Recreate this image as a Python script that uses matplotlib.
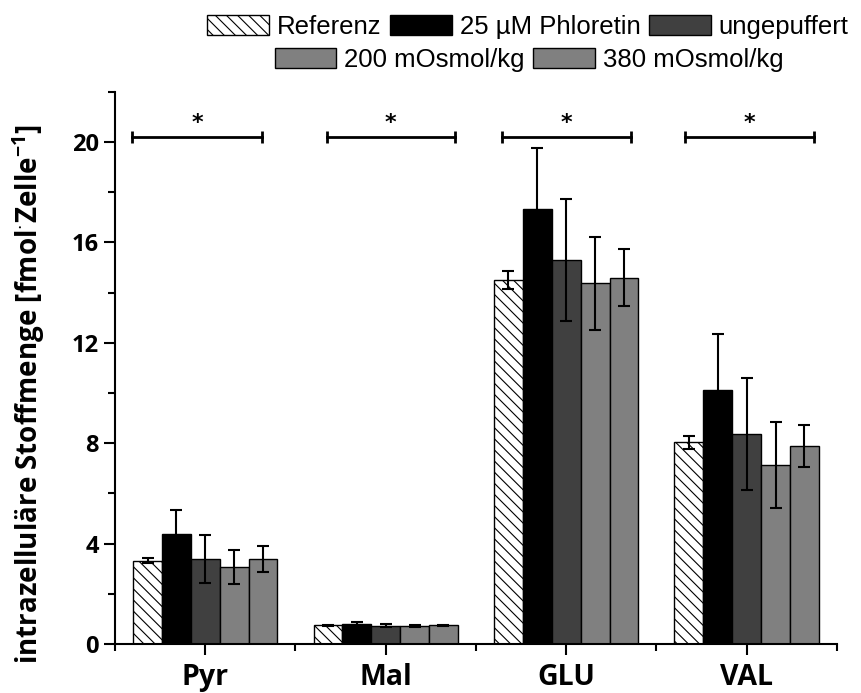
import matplotlib
matplotlib.use('Agg')
import matplotlib.pyplot as plt
from matplotlib.ticker import MultipleLocator, FixedLocator
import numpy as np

# Mittelwerte und Standardabweichungen je Substanz (fmol/Zelle)
substances = ['Pyr', 'Mal', 'GLU', 'VAL']
conditions = ['Referenz', '25 µM Phloretin', 'ungepuffert', '200 mOsmol/kg', '380 mOsmol/kg']

referenz = [3.32, 0.74, 14.50, 8.04]
referenz_err = [0.10, 0.02, 0.36, 0.26]
phloretin = [4.40, 0.81, 17.32, 10.12]
phloretin_err = [0.92, 0.06, 2.43, 2.23]
ungepuffert = [3.38, 0.73, 15.30, 8.37]
ungepuffert_err = [0.95, 0.07, 2.43, 2.22]
osm_200 = [3.06, 0.71, 14.37, 7.12]
osm_200_err = [0.68, 0.04, 1.85, 1.72]
osm_380 = [3.38, 0.74, 14.60, 7.89]
osm_380_err = [0.52, 0.03, 1.15, 0.85]

significance = ['*', '*', '*', '*']
sig_level = 20.2

# Lage der Signifikanzbalken relativ zur Gruppenmitte
sig_spans = [(-0.406, 0.317), (-0.328, 0.383), (-0.356, 0.361), (-0.344, 0.372)]

values = [referenz, phloretin, ungepuffert, osm_200, osm_380]
errors = [referenz_err, phloretin_err, ungepuffert_err, osm_200_err, osm_380_err]
colors = ['white', 'black', '#404040', '#808080', '#808080']
hatches = ['\\\\\\', None, None, None, None]

plt.rcParams['mathtext.fontset'] = 'custom'
plt.rcParams['mathtext.rm'] = 'Open Sans'
plt.rcParams['mathtext.bf'] = 'Open Sans:bold'
plt.rcParams['hatch.linewidth'] = 0.8

fig = plt.figure(figsize=(8.61, 6.93), dpi=100)
ax = fig.add_axes([0.1336, 0.0707, 0.972 - 0.1336, 0.8675 - 0.0707])

x = np.arange(1, len(substances) + 1)
width = 0.16
handles = []
for i, (vals, errs) in enumerate(zip(values, errors)):
    pos = x + (i - 2) * width
    b = ax.bar(pos, vals, width, color=colors[i], edgecolor='black', linewidth=1.0,
               hatch=hatches[i], label=conditions[i], zorder=2)
    ax.errorbar(pos, vals, yerr=errs, fmt='none', ecolor='black', elinewidth=1.5,
                capsize=4.5, capthick=1.5, zorder=3)
    handles.append(b)

for xi, (a, b), mark in zip(x, sig_spans, significance):
    ax.plot([xi + a, xi + b], [sig_level, sig_level], color='black', lw=2, zorder=3)
    ax.plot([xi + a, xi + b], [sig_level, sig_level], ls='none', marker='|',
            markersize=8, mew=2, color='black', zorder=3)
    ax.text(xi + (a + b) / 2, sig_level + 0.15, mark, ha='center', va='bottom',
            fontsize=16, fontweight='bold', family='DejaVu Sans')

ax.set_xlim(0.5, 4.5)
ax.set_ylim(0, 22)
ax.xaxis.set_major_locator(FixedLocator(x))
ax.xaxis.set_minor_locator(FixedLocator(np.arange(0.5, 4.6, 1.0)))
ax.yaxis.set_major_locator(FixedLocator([0, 4, 8, 12, 16, 20]))
ax.yaxis.set_minor_locator(MultipleLocator(2))
ax.set_xticklabels(substances, fontsize=20.5, fontweight='bold', family='Open Sans')
for lbl in ax.get_yticklabels():
    lbl.set_fontsize(17)
    lbl.set_fontweight('bold')
    lbl.set_family('Open Sans')

for side in ['top', 'right']:
    ax.spines[side].set_visible(False)
for side in ['left', 'bottom']:
    ax.spines[side].set_linewidth(1.5)
ax.tick_params(which='major', length=8, width=1.5, direction='out')
ax.tick_params(which='minor', length=5, width=1.5, direction='out')
ax.tick_params(axis='x', which='major', pad=6)

ax.set_ylabel(r'intrazelluläre Stoffmenge [fmol$^{\mathbf{\cdot}}$Zelle$^{\mathbf{-1}}$]',
              fontsize=20, fontweight='bold', family='Open Sans', va='center')
ax.yaxis.set_label_coords((29 - 115) / 722, (644 - 394) / 552)

leg_kw = dict(frameon=False, prop={'family': 'Liberation Sans', 'size': 18.5},
              handlelength=2.4, handleheight=0.8, handletextpad=0.3,
              columnspacing=0.35, borderpad=0, borderaxespad=0)
leg1 = fig.legend(handles[:3], conditions[:3], ncol=3, loc='center',
                  bbox_to_anchor=(528 / 861, 1 - 27 / 693), **leg_kw)
leg2 = fig.legend(handles[3:], conditions[3:], ncol=2, loc='center',
                  bbox_to_anchor=(529 / 861, 1 - 60 / 693), **leg_kw)

fig.savefig('out.png', dpi=100)
